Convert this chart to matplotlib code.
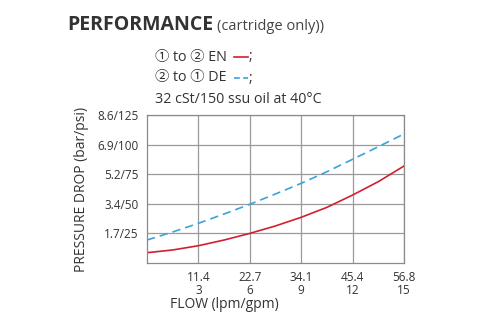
import matplotlib
matplotlib.use("Agg")
import matplotlib.pyplot as plt
from matplotlib.lines import Line2D

plt.rcParams['font.family'] = ['Open Sans', 'Noto Sans CJK SC', 'DejaVu Sans']

# data (x in gpm, y in psi)
flow_gpm = [0, 1.5, 3, 4.5, 6, 7.5, 9, 10.5, 12, 13.5, 15]
en_psi = [8.7, 11.0, 14.6, 19.4, 25.0, 31.3, 38.6, 47.0, 57.4, 68.7, 81.9]
de_psi = [19.4, 26.2, 33.5, 41.4, 49.6, 58.3, 67.3, 77.1, 87.6, 98.2, 109.0]

x_ticks = [3, 6, 9, 12, 15]
x_labels = ['11.4\n3', '22.7\n6', '34.1\n9', '45.4\n12', '56.8\n15']
y_ticks = [25, 50, 75, 100, 125]
y_labels = ['1.7/25', '3.4/50', '5.2/75', '6.9/100', '8.6/125']

RED = '#d21f2f'
BLUE = '#3ba3d8'
TXT = '#333333'

fig = plt.figure(figsize=(4.78, 3.30), dpi=100)
ax = fig.add_axes([147 / 478, 67 / 330, 257 / 478, 148 / 330])

ax.plot(flow_gpm, en_psi, color=RED, lw=1.2)
ax.plot(flow_gpm, de_psi, color=BLUE, lw=1.2, ls=(0, (5, 3)))

ax.set_xlim(0, 15)
ax.set_ylim(0, 125)
ax.set_xticks(x_ticks)
ax.set_xticklabels(x_labels, fontsize=8.5, color=TXT, linespacing=0.95)
ax.set_yticks(y_ticks)
ax.set_yticklabels(y_labels, fontsize=8.5, color=TXT)
ax.tick_params(length=0, pad=6)
ax.grid(True, color='#9a9a9a', lw=0.9)
ax.set_axisbelow(True)
for s in ax.spines.values():
    s.set_color('#8a8a8a')
    s.set_linewidth(0.9)

ax.set_ylabel('PRESSURE DROP (bar/psi)', fontsize=10, color=TXT, labelpad=6)
fig.text(170 / 478, 1 - 305 / 330, 'FLOW (lpm/gpm)', fontsize=10, color=TXT,
         ha='left', va='center')

# header
fig.text(67 / 478, 1 - 25 / 330, 'PERFORMANCE', fontsize=14, fontweight='bold',
         color=TXT, ha='left', va='center')
fig.text(217 / 478, 1 - 27 / 330, '(cartridge only))', fontsize=10.5, color='#444444',
         ha='left', va='center')

# legend lines
fig.text(155 / 478, 1 - 57 / 330, '\u2460 to \u2461 EN', fontsize=10.3, color=TXT,
         ha='left', va='center')
fig.text(155 / 478, 1 - 78 / 330, '\u2461 to \u2460 DE', fontsize=10.3, color=TXT,
         ha='left', va='center')
fig.text(249 / 478, 1 - 57 / 330, ';', fontsize=10.3, color=TXT, ha='left', va='center')
fig.text(249 / 478, 1 - 78 / 330, ';', fontsize=10.3, color=TXT, ha='left', va='center')
fig.add_artist(Line2D([234 / 478, 248 / 478], [1 - 57 / 330, 1 - 57 / 330],
                      color=RED, lw=1.2))
fig.add_artist(Line2D([234 / 478, 248 / 478], [1 - 78 / 330, 1 - 78 / 330],
                      color=BLUE, lw=1.2, ls=(0, (3.5, 2))))
fig.text(155 / 478, 1 - 100 / 330, '32 cSt/150 ssu oil at 40\u00b0C', fontsize=10.3,
         color=TXT, ha='left', va='center')

fig.savefig('out.png', dpi=100)
